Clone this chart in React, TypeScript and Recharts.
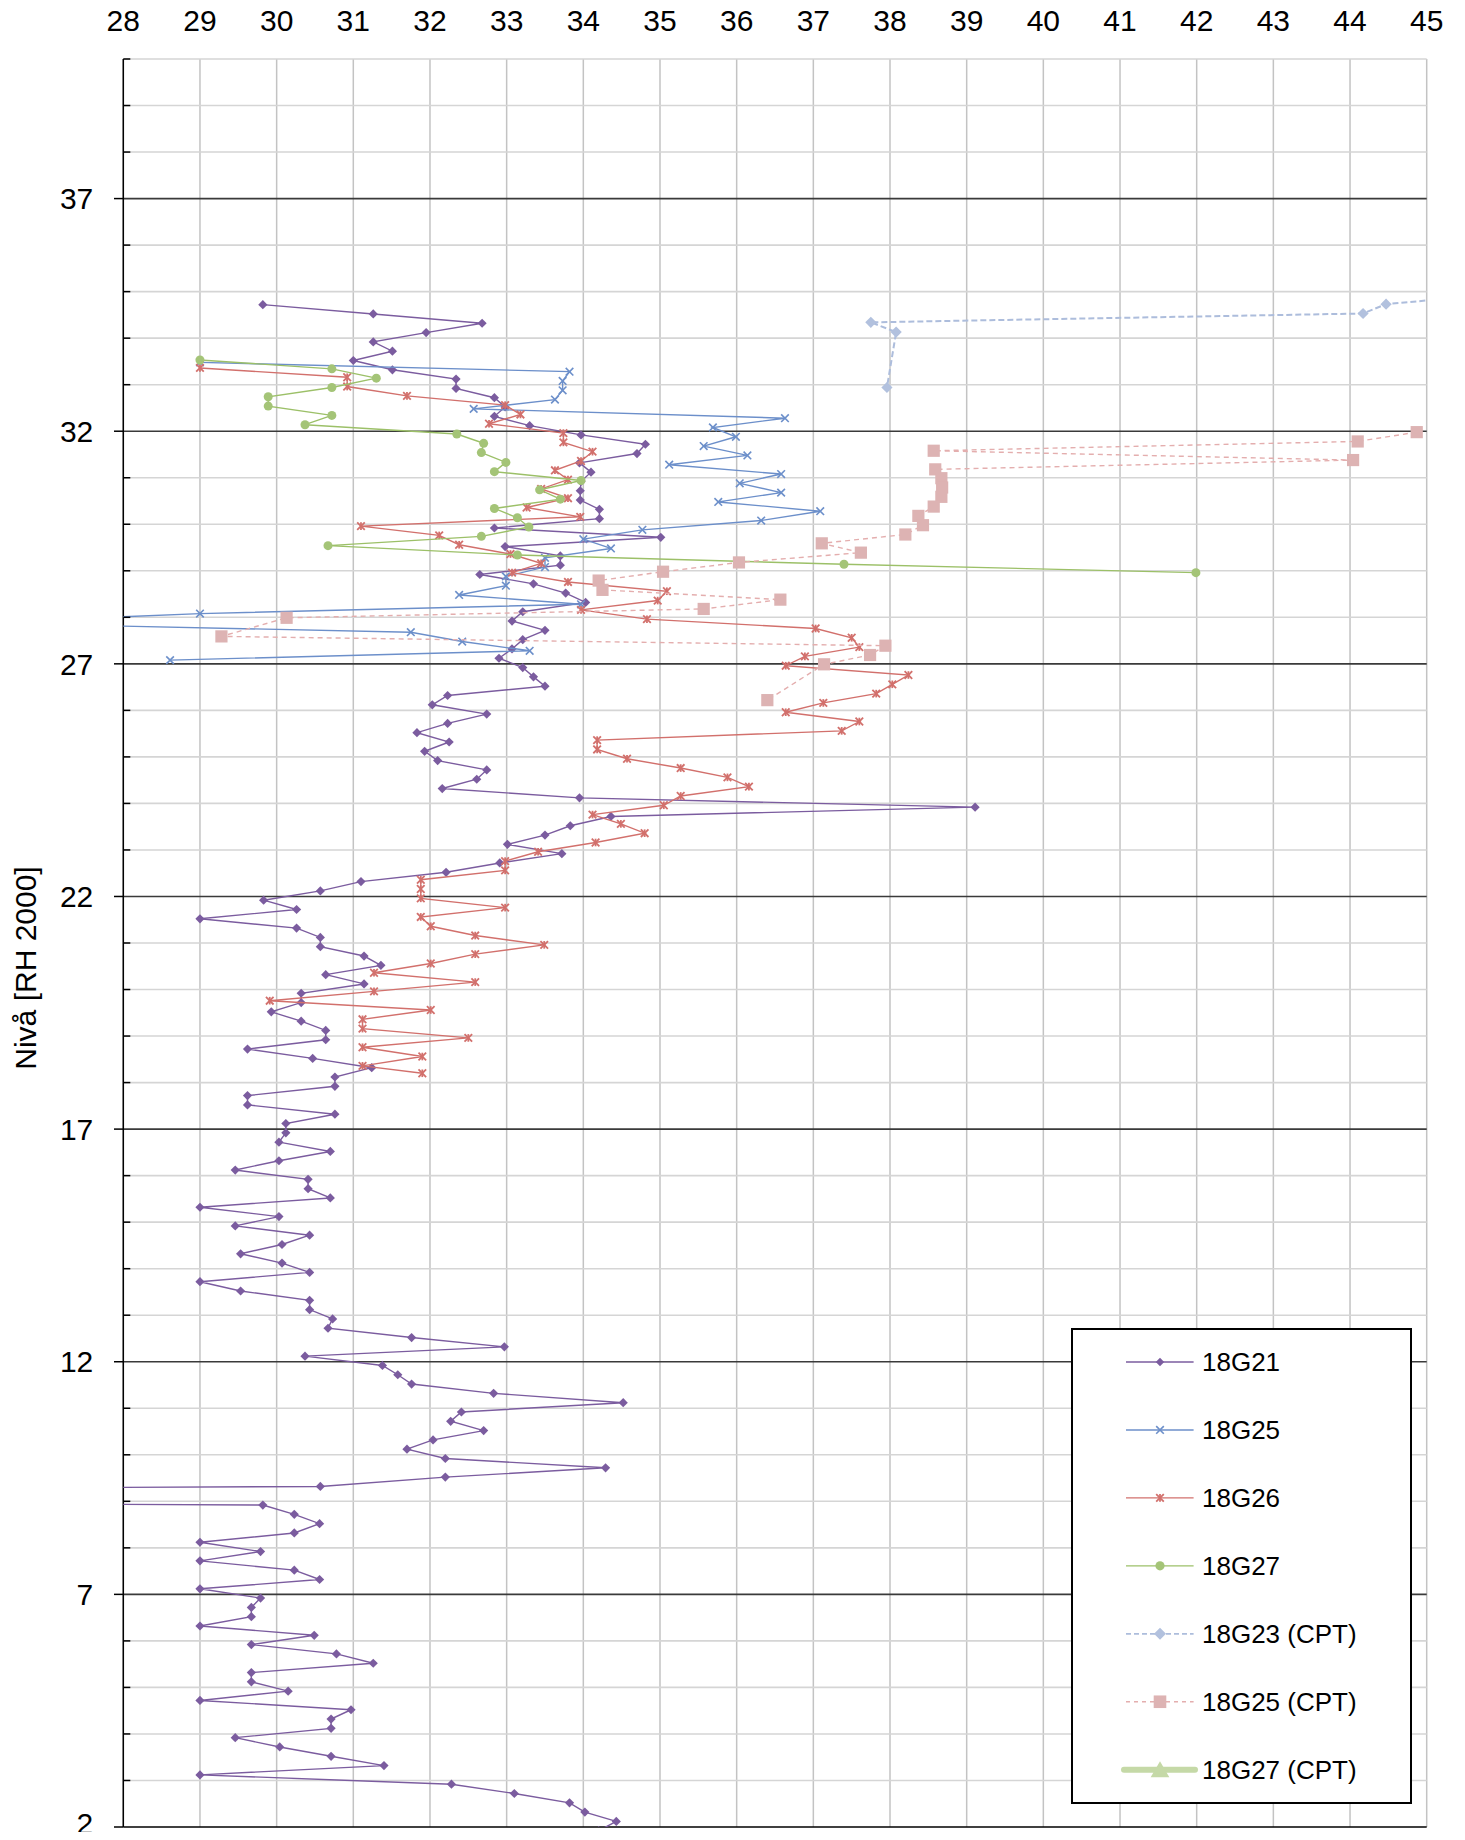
import React from 'react';
import { ScatterChart, Scatter, XAxis, YAxis, CartesianGrid, Legend } from 'recharts';

const FONT = '"Liberation Sans", Arial, sans-serif';

// ---------- axis ticks ----------
const X_TICKS = [28, 29, 30, 31, 32, 33, 34, 35, 36, 37, 38, 39, 40, 41, 42, 43, 44, 45];
const Y_TICKS = [2, 3, 4, 5, 6, 7, 8, 9, 10, 11, 12, 13, 14, 15, 16, 17, 18, 19, 20, 21, 22, 23, 24, 25, 26, 27, 28, 29, 30, 31, 32, 33, 34, 35, 36, 37, 38, 39, 40];
const Y_LABELED = [2, 7, 12, 17, 22, 27, 32, 37];
const Y_MAJOR = [7, 12, 17, 22, 27, 32, 37];
const Y_MINOR = Y_TICKS.filter((v) => !Y_LABELED.includes(v));

// ---------- series data: [level (RH 2000), value] ----------
const G21: [number, number][] = [
  [34.72, 29.82], [34.52, 31.26], [34.32, 32.68], [34.12, 31.95], [33.92, 31.26], [33.72, 31.51], [33.52, 31.0], [33.32, 31.51],
  [33.12, 32.34], [32.92, 32.34], [32.72, 32.84], [32.52, 32.98], [32.32, 32.84], [32.12, 33.3], [31.92, 33.97], [31.72, 34.81],
  [31.52, 34.7], [31.32, 33.95], [31.12, 34.1], [30.92, 33.97], [30.72, 33.96], [30.52, 33.96], [30.32, 34.21], [30.12, 34.21],
  [29.92, 32.84], [29.72, 35.01], [29.52, 32.98], [29.32, 33.7], [29.12, 33.7], [28.92, 32.65], [28.72, 33.35], [28.52, 33.77],
  [28.32, 34.03], [28.12, 33.21], [27.92, 33.07], [27.72, 33.5], [27.52, 33.21], [27.32, 33.07], [27.12, 32.9], [26.92, 33.21],
  [26.72, 33.35], [26.52, 33.5], [26.32, 32.23], [26.12, 32.03], [25.92, 32.74], [25.72, 32.23], [25.52, 31.83], [25.32, 32.25],
  [25.12, 31.93], [24.92, 32.1], [24.72, 32.74], [24.52, 32.61], [24.32, 32.16], [24.12, 33.95], [23.92, 39.11], [23.72, 34.36],
  [23.52, 33.83], [23.32, 33.5], [23.12, 33.01], [22.92, 33.72], [22.72, 32.91], [22.52, 32.21], [22.32, 31.1], [22.12, 30.57],
  [21.92, 29.83], [21.72, 30.26], [21.52, 29.0], [21.32, 30.26], [21.12, 30.57], [20.92, 30.57], [20.72, 31.14], [20.52, 31.36],
  [20.32, 30.64], [20.12, 31.14], [19.92, 30.32], [19.72, 30.32], [19.52, 29.93], [19.32, 30.32], [19.12, 30.64], [18.92, 30.64],
  [18.72, 29.62], [18.52, 30.47], [18.32, 31.24], [18.12, 30.76], [17.92, 30.76], [17.72, 29.62], [17.52, 29.62], [17.32, 30.76],
  [17.12, 30.12], [16.92, 30.12], [16.72, 30.03], [16.52, 30.7], [16.32, 30.03], [16.12, 29.46], [15.92, 30.41], [15.72, 30.41],
  [15.52, 30.7], [15.32, 29.0], [15.12, 30.03], [14.92, 29.46], [14.72, 30.43], [14.52, 30.07], [14.32, 29.53], [14.12, 30.07],
  [13.92, 30.43], [13.72, 29.0], [13.52, 29.53], [13.32, 30.43], [13.12, 30.43], [12.92, 30.73], [12.72, 30.67], [12.52, 31.76],
  [12.32, 32.97], [12.12, 30.37], [11.92, 31.38], [11.72, 31.58], [11.52, 31.76], [11.32, 32.83], [11.12, 34.52], [10.92, 32.41],
  [10.72, 32.27], [10.52, 32.7], [10.32, 32.04], [10.12, 31.7], [9.92, 32.2], [9.72, 34.29], [9.52, 32.2], [9.32, 30.57],
  [9.12, 5.0], [8.92, 29.82], [8.72, 30.23], [8.52, 30.56], [8.32, 30.23], [8.12, 29.0], [7.92, 29.79], [7.72, 29.0],
  [7.52, 30.23], [7.32, 30.56], [7.12, 29.0], [6.92, 29.79], [6.72, 29.67], [6.52, 29.67], [6.32, 29.0], [6.12, 30.49],
  [5.92, 29.67], [5.72, 30.78], [5.52, 31.26], [5.32, 29.67], [5.12, 29.67], [4.92, 30.15], [4.72, 29.0], [4.52, 30.97],
  [4.32, 30.71], [4.12, 30.71], [3.92, 29.46], [3.72, 30.04], [3.52, 30.71], [3.32, 31.4], [3.12, 29.0], [2.92, 32.28],
  [2.72, 33.1], [2.52, 33.82], [2.32, 34.02], [2.12, 34.43], [1.92, 34.2],
];

const G25: [number, number][] = [
  [33.48, 29.0], [33.28, 33.82], [33.08, 33.73], [32.88, 33.73], [32.68, 33.63], [32.48, 32.57], [32.28, 36.63], [32.08, 35.69],
  [31.88, 35.99], [31.68, 35.57], [31.48, 36.14], [31.28, 35.12], [31.08, 36.58], [30.88, 36.04], [30.68, 36.58], [30.48, 35.76],
  [30.28, 37.09], [30.08, 36.32], [29.88, 34.77], [29.68, 34.0], [29.48, 34.36], [29.28, 33.5], [29.08, 33.5], [28.88, 32.99],
  [28.68, 32.99], [28.48, 32.38], [28.28, 33.97], [28.08, 29.0], [27.88, 26.0], [27.68, 31.75], [27.48, 32.42], [27.28, 33.3],
  [27.08, 28.61],
];

const G26: [number, number][] = [
  [33.36, 29.0], [33.16, 30.92], [32.96, 30.92], [32.76, 31.7], [32.56, 32.98], [32.36, 33.18], [32.16, 32.77], [31.96, 33.74],
  [31.76, 33.74], [31.56, 34.12], [31.36, 33.97], [31.16, 33.63], [30.96, 33.8], [30.76, 33.45], [30.56, 33.8], [30.36, 33.26],
  [30.16, 33.96], [29.96, 31.1], [29.76, 32.12], [29.56, 32.38], [29.36, 33.05], [29.16, 33.45], [28.96, 33.07], [28.76, 33.8],
  [28.56, 35.09], [28.36, 34.97], [28.16, 33.97], [27.96, 34.83], [27.76, 37.03], [27.56, 37.5], [27.36, 37.6], [27.16, 36.89],
  [26.96, 36.64], [26.76, 38.24], [26.56, 38.03], [26.36, 37.82], [26.16, 37.13], [25.96, 36.64], [25.76, 37.6], [25.56, 37.37],
  [25.36, 34.18], [25.16, 34.18], [24.96, 34.57], [24.76, 35.27], [24.56, 35.88], [24.36, 36.16], [24.16, 35.27], [23.96, 35.05],
  [23.76, 34.12], [23.56, 34.49], [23.36, 34.8], [23.16, 34.16], [22.96, 33.41], [22.76, 32.98], [22.56, 32.98], [22.36, 31.88],
  [22.16, 31.88], [21.96, 31.88], [21.76, 32.98], [21.56, 31.88], [21.36, 32.01], [21.16, 32.59], [20.96, 33.49], [20.76, 32.59],
  [20.56, 32.01], [20.36, 31.27], [20.16, 32.59], [19.96, 31.27], [19.76, 29.91], [19.56, 32.01], [19.36, 31.12], [19.16, 31.12],
  [18.96, 32.5], [18.76, 31.12], [18.56, 31.9], [18.36, 31.12], [18.2, 31.9],
];

const G27: [number, number][] = [
  [33.53, 29.0], [33.34, 30.72], [33.14, 31.3], [32.94, 30.72], [32.74, 29.89], [32.54, 29.89], [32.34, 30.72], [32.14, 30.37],
  [31.94, 32.35], [31.74, 32.7], [31.54, 32.67], [31.33, 32.99], [31.13, 32.84], [30.94, 33.97], [30.74, 33.43], [30.54, 33.7],
  [30.34, 32.84], [30.14, 33.14], [29.94, 33.29], [29.74, 32.67], [29.54, 30.67], [29.34, 33.14], [29.14, 37.4], [28.96, 41.99],
];

const G23_CPT: [number, number][] = [
  [34.93, 45.8], [34.73, 44.47], [34.53, 44.17], [34.34, 37.75], [34.13, 38.08], [32.94, 37.96],
];

const G25_CPT: [number, number][] = [
  [31.98, 44.87], [31.78, 44.1], [31.58, 38.57], [31.38, 44.04], [31.18, 38.59], [30.99, 38.67], [30.79, 38.68], [30.59, 38.67],
  [30.38, 38.57], [30.18, 38.37], [29.98, 38.43], [29.78, 38.2], [29.59, 37.11], [29.39, 37.62], [29.18, 36.03], [28.98, 35.04],
  [28.79, 34.2], [28.59, 34.25], [28.38, 36.57], [28.18, 35.57], [27.99, 30.13], [27.59, 29.28], [27.39, 37.94], [27.19, 37.74],
  [26.99, 37.14], [26.22, 36.4],
];

const G27_CPT: [number, number][] = [];

const toPts = (arr: [number, number][]) => arr.map(([level, value]) => ({ x: value, y: level }));

// ---------- styles ----------
type Kind = 'diamond' | 'x' | 'star' | 'circle' | 'square' | 'triangle';

const SERIES = [
  { name: '18G21', data: G21, color: '#7B5C9F', marker: '#7B5C9F', kind: 'diamond' as Kind, size: 4.6, lsize: 4.2, width: 1.4, lwidth: 1.4, dash: undefined as string | undefined, ldash: undefined as string | undefined },
  { name: '18G25', data: G25, color: '#6C8FCA', marker: '#6C8FCA', kind: 'x' as Kind, size: 3.8, lsize: 3.8, width: 1.4, lwidth: 1.4, dash: undefined, ldash: undefined },
  { name: '18G26', data: G26, color: '#D2706C', marker: '#D2706C', kind: 'star' as Kind, size: 3.8, lsize: 3.8, width: 1.4, lwidth: 1.4, dash: undefined, ldash: undefined },
  { name: '18G27', data: G27, color: '#9CC068', marker: '#A4C477', kind: 'circle' as Kind, size: 4.5, lsize: 4.6, width: 1.4, lwidth: 1.4, dash: undefined, ldash: undefined },
  { name: '18G23 (CPT)', data: G23_CPT, color: '#ADBDDC', marker: '#B2C1DE', kind: 'diamond' as Kind, size: 5.6, lsize: 6, width: 2, lwidth: 1.8, dash: '6 3', ldash: '5 3' },
  { name: '18G25 (CPT)', data: G25_CPT, color: '#E4AEAE', marker: '#DDB3B3', kind: 'square' as Kind, size: 6.1, lsize: 6.3, width: 1.4, lwidth: 1.3, dash: '5 4', ldash: '4 4' },
  { name: '18G27 (CPT)', data: G27_CPT, color: '#C5D9A7', marker: '#C5D9A7', kind: 'triangle' as Kind, size: 8, lsize: 8.5, width: 6, lwidth: 6, dash: undefined, ldash: undefined },
];

function Marker({ kind, cx, cy, color, s }: { kind: Kind; cx: number; cy: number; color: string; s: number }) {
  if (cx == null || cy == null || isNaN(cx) || isNaN(cy)) return null;
  switch (kind) {
    case 'diamond':
      return <polygon points={`${cx},${cy - s} ${cx + s},${cy} ${cx},${cy + s} ${cx - s},${cy}`} fill={color} />;
    case 'x':
      return (
        <g stroke={color} strokeWidth={1.6}>
          <line x1={cx - s} y1={cy - s} x2={cx + s} y2={cy + s} />
          <line x1={cx - s} y1={cy + s} x2={cx + s} y2={cy - s} />
        </g>
      );
    case 'star':
      return (
        <g stroke={color} strokeWidth={1.8}>
          <line x1={cx - s} y1={cy - s} x2={cx + s} y2={cy + s} />
          <line x1={cx - s} y1={cy + s} x2={cx + s} y2={cy - s} />
          <line x1={cx} y1={cy - s} x2={cx} y2={cy + s} />
        </g>
      );
    case 'circle':
      return <circle cx={cx} cy={cy} r={s} fill={color} />;
    case 'square':
      return <rect x={cx - s} y={cy - s} width={2 * s} height={2 * s} fill={color} />;
    case 'triangle':
      return <polygon points={`${cx},${cy - s} ${cx + s * 1.1},${cy + s * 0.9} ${cx - s * 1.1},${cy + s * 0.9}`} fill={color} />;
    default:
      return null;
  }
}

// ---------- ticks ----------
const TopTick = (props: any) => {
  const { x, y, payload } = props;
  return (
    <text x={x} y={y - 27.6} textAnchor="middle" fontSize={30} fontFamily={FONT} fill="#000">
      {payload.value}
    </text>
  );
};

const BottomTick = (props: any) => {
  const { x, y } = props;
  return <line x1={x} x2={x} y1={y - 9} y2={y + 9} stroke="#000" strokeWidth={1.5} />;
};

const LeftTick = (props: any) => {
  const { x, y, payload } = props;
  const v = payload.value;
  const labeled = Y_LABELED.includes(v);
  // the lowest label sits at the bottom edge; lift it slightly so it stays inside the picture
  const dy = v === Y_TICKS[0] ? 6.5 : 10.7;
  return (
    <g>
      {labeled ? (
        <line x1={x - 9.3} x2={x} y1={y} y2={y} stroke="#000" strokeWidth={1.5} />
      ) : (
        <line x1={x} x2={x + 7} y1={y} y2={y} stroke="#000" strokeWidth={1.5} />
      )}
      {labeled && (
        <text x={x - 30} y={y + dy} textAnchor="end" fontSize={30} fontFamily={FONT} fill="#000">
          {v}
        </text>
      )}
    </g>
  );
};

const YTitle = (props: any) => {
  const vb = props.viewBox || { x: 23.3, y: 59, width: 100, height: 1768 };
  const cx = vb.x + 1.7;
  const cy = vb.y + vb.height / 2 + 25;
  return (
    <text
      x={cx}
      y={cy}
      transform={`rotate(-90, ${cx}, ${cy})`}
      textAnchor="middle"
      dominantBaseline="central"
      fontSize={30}
      fontFamily={FONT}
      fill="#000"
    >
      Nivå [RH 2000]
    </text>
  );
};

const LegendBox = () => (
  <svg width={341} height={476} style={{ display: 'block' }}>
    <rect x={1} y={1} width={339} height={474} fill="#fff" stroke="#000" strokeWidth={2} />
    {SERIES.map((st, i) => {
      const cy = 34 + i * 67.95;
      return (
        <g key={st.name}>
          <line
            x1={st.kind === 'triangle' ? 53 : 55}
            x2={st.kind === 'triangle' ? 124 : 122.6}
            y1={cy}
            y2={cy}
            stroke={st.color}
            strokeWidth={st.lwidth}
            strokeDasharray={st.ldash}
            strokeLinecap={st.kind === 'triangle' ? 'round' : 'butt'}
          />
          <Marker kind={st.kind} cx={89} cy={cy} color={st.marker} s={st.lsize} />
          <text x={131} y={cy + 9.3} fontSize={26} fontFamily={FONT} fill="#000">
            {st.name}
          </text>
        </g>
      );
    })}
  </svg>
);

export default function App() {
  return (
    <div style={{ margin: '-8px', width: 1465, height: 1840, overflow: 'hidden' }}>
      <ScatterChart
        width={1465}
        height={1840}
        margin={{ top: 19, right: 38.3, bottom: 3, left: 23.3 }}
        style={{ fontFamily: FONT }}
      >
        <CartesianGrid vertical={true} horizontal={false} verticalValues={X_TICKS} stroke="#C3C3C3" strokeWidth={1.5} />
        <CartesianGrid vertical={false} horizontal={true} horizontalValues={Y_MINOR} stroke="#D5D5D5" strokeWidth={1.6} />
        <CartesianGrid vertical={false} horizontal={true} horizontalValues={Y_MAJOR} stroke="#3A3A3A" strokeWidth={1.6} />
        <XAxis
          orientation="top"
          type="number"
          dataKey="x"
          domain={[28, 45]}
          ticks={X_TICKS}
          interval={0}
          allowDataOverflow
          height={40}
          axisLine={false}
          tickLine={false}
          tickSize={0}
          tickMargin={0}
          tick={TopTick}
        />
        <XAxis
          xAxisId="bot"
          orientation="bottom"
          type="number"
          domain={[28, 45]}
          ticks={X_TICKS}
          interval={0}
          allowDataOverflow
          height={10}
          axisLine={{ stroke: '#000', strokeWidth: 1.5 }}
          tickLine={false}
          tickSize={0}
          tickMargin={0}
          tick={BottomTick}
        />
        <YAxis
          type="number"
          dataKey="y"
          domain={[2, 40]}
          ticks={Y_TICKS}
          interval={0}
          allowDataOverflow
          width={100}
          axisLine={{ stroke: '#000', strokeWidth: 1.5 }}
          tickLine={false}
          tickSize={0}
          tickMargin={0}
          tick={LeftTick}
          label={YTitle}
        />
        <Legend
          layout="vertical"
          align="center"
          verticalAlign="middle"
          wrapperStyle={{ left: 1070.7, top: 1328.3, width: 341, height: 476 }}
          content={() => <LegendBox />}
        />
        {SERIES.map((st) => (
          <Scatter
            key={st.name}
            name={st.name}
            data={toPts(st.data)}
            fill={st.color}
            line={{ stroke: st.color, strokeWidth: st.width, strokeDasharray: st.dash }}
            lineType="joint"
            isAnimationActive={false}
            shape={(p: any) => <Marker kind={st.kind} cx={p.cx} cy={p.cy} color={st.marker} s={st.size} />}
          />
        ))}
      </ScatterChart>
    </div>
  );
}
